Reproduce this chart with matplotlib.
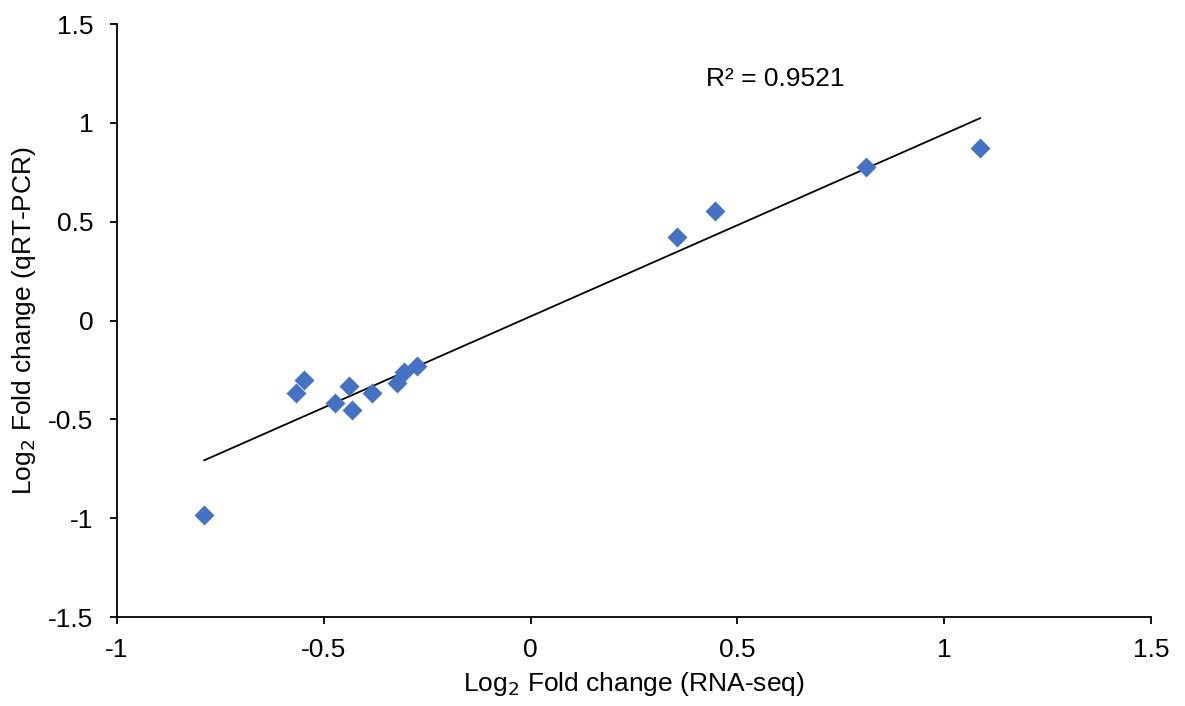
import numpy as np
import matplotlib.pyplot as plt

plt.rcParams['font.family'] = ['Liberation Sans', 'DejaVu Sans']

# log2 fold change values
rna_seq = [-0.789, -0.566, -0.548, -0.473, -0.440, -0.432, -0.384,
           -0.322, -0.307, -0.275, 0.354, 0.446, 0.812, 1.087]
qrt_pcr = [-0.985, -0.367, -0.300, -0.418, -0.333, -0.452, -0.367,
           -0.316, -0.259, -0.232, 0.421, 0.555, 0.775, 0.875]
r2_label = 'R² = 0.9521'

x = np.array(rna_seq)
y = np.array(qrt_pcr)
slope, intercept = np.polyfit(x, y, 1)
xfit = np.array([x.min(), x.max()])

fs = 19

fig = plt.figure(figsize=(11.85, 7.06), dpi=100)
ax = fig.add_axes([0.0987, 0.126, 0.8726, 0.840])

ax.plot(xfit, slope * xfit + intercept, color='black', lw=1.3, zorder=2)
ax.plot(x, y, 'D', color='#4472C4', ms=10, mec='none', zorder=3)

ax.set_xlim(-1, 1.5)
ax.set_ylim(-1.5, 1.5)
ax.set_xticks([-1, -0.5, 0, 0.5, 1, 1.5])
ax.set_xticklabels(['-1', '-0.5', '0', '0.5', '1', '1.5'])
ax.set_yticks([-1.5, -1, -0.5, 0, 0.5, 1, 1.5])
ax.set_yticklabels(['-1.5', '-1', '-0.5', '0', '0.5', '1', '1.5'])

for s in ['top', 'right']:
    ax.spines[s].set_visible(False)
for s in ['left', 'bottom']:
    ax.spines[s].set_linewidth(1.3)
ax.tick_params(direction='out', length=5, width=1.3, labelsize=fs)
ax.tick_params(axis='x', pad=10)
ax.tick_params(axis='y', pad=12)

ax.set_xlabel('Log$_2$ Fold change (RNA-seq)', fontsize=fs, labelpad=6)
ax.set_ylabel('Log$_2$ Fold change (qRT-PCR)', fontsize=fs, labelpad=7)

ax.text(0.423, 1.22, r2_label, fontsize=fs, ha='left', va='center')

fig.savefig('out.png', dpi=100)
